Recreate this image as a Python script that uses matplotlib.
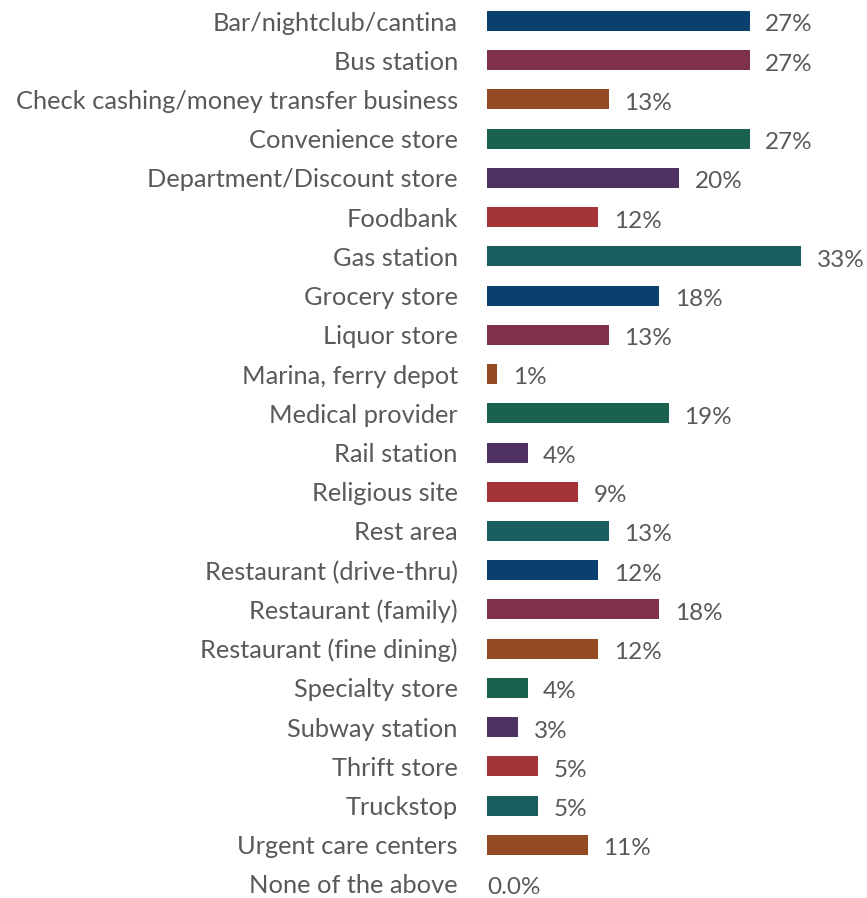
import matplotlib
matplotlib.use("Agg")
import matplotlib.pyplot as plt

categories = [
    "Bar/nightclub/cantina", "Bus station", "Check cashing/money transfer business",
    "Convenience store", "Department/Discount store", "Foodbank", "Gas station",
    "Grocery store", "Liquor store", "Marina, ferry depot", "Medical provider",
    "Rail station", "Religious site", "Rest area", "Restaurant (drive-thru)",
    "Restaurant (family)", "Restaurant (fine dining)", "Specialty store",
    "Subway station", "Thrift store", "Truckstop", "Urgent care centers",
    "None of the above",
]
values = [27.6, 27.6, 12.8, 27.6, 20.2, 11.7, 33.0, 18.1, 12.8, 1.1, 19.1,
          4.3, 9.6, 12.8, 11.7, 18.1, 11.7, 4.3, 3.3, 5.4, 5.4, 10.6, 0.0]
value_labels = ["27%", "27%", "13%", "27%", "20%", "12%", "33%", "18%", "13%",
                "1%", "19%", "4%", "9%", "13%", "12%", "18%", "12%", "4%",
                "3%", "5%", "5%", "11%", "0.0%"]

palette = ["#0b3f6e", "#7f304b", "#924b22", "#1a6150", "#4e3262", "#a33437", "#1a5e60"]
colors = [palette[i % 7] for i in range(len(categories))]
colors[21] = "#924b22"  # urgent care drawn in the brown

plt.rcParams['font.family'] = ['Lato', 'DejaVu Sans']
text_color = "#595959"

fig = plt.figure(figsize=(8.67, 8.98), dpi=100)
ax = fig.add_axes([0.5617, 0, 0.4383, 1])

y = list(range(len(categories)))
ax.barh(y, values, height=0.51, color=colors)

for i, (v, lab) in enumerate(zip(values, value_labels)):
    gap = 1.6 if v > 0 else 0.0
    ax.text(v + gap, i + 0.1, lab, va="center", ha="left",
            fontsize=17.5, color=text_color)

ax.set_xlim(0, 39.9)
ax.set_ylim(22.357, -0.536)
ax.set_yticks(y)
ax.set_yticklabels(categories, fontsize=18.3, color=text_color)
ax.tick_params(axis="y", length=0, pad=21)
ax.set_xticks([])
for s in ax.spines.values():
    s.set_visible(False)

fig.savefig("out.png", dpi=100)
